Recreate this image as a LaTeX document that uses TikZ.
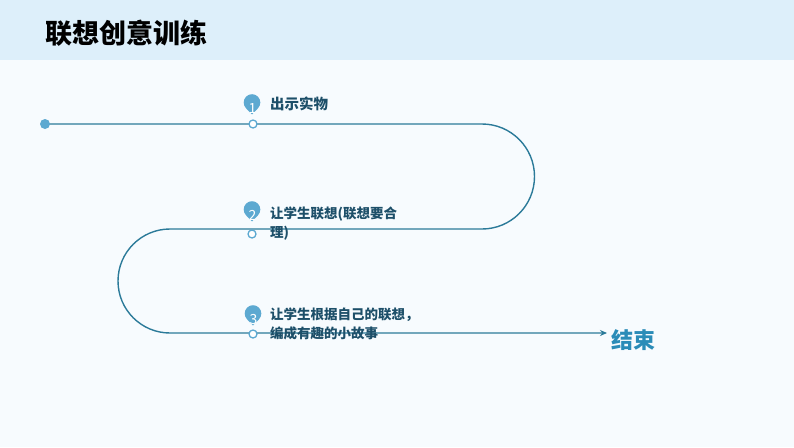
\documentclass[tikz,border=0pt]{standalone}
\usepackage{fontspec}
\newfontfamily\cjk{Noto Sans CJK SC}
\usetikzlibrary{arrows.meta,calc}
\definecolor{band}{HTML}{DDEFFA}
\definecolor{paper}{HTML}{F7FBFE}
\definecolor{road}{HTML}{2B7A99}
\definecolor{dotc}{HTML}{5DA9D1}
\definecolor{txt}{HTML}{1D4F69}
\definecolor{endc}{HTML}{2B8CB8}
\newcommand{\pin}[3]{% x, y of pin centre, number
	\begin{scope}
	\fill[dotc] (#1,#2+12) -- ($(#1,#2)+(45:8.3)$) arc (45:-225:8.3) -- cycle;
	\clip (#1,#2+12) -- ($(#1,#2)+(45:8.3)$) arc (45:-225:8.3) -- cycle;
	\node[font=\cjk\fontsize{14}{14}\selectfont, text=white, inner sep=0pt] at (#1+0.5,#2+6) {#3};
	\end{scope}}
\begin{document}
\begin{tikzpicture}[x=1pt, y=-1pt, line cap=round, line join=round, >={Stealth[length=7pt,width=6pt]}]
	\tikzset{road style/.style={draw=road, line width=1.4pt},
		hole/.style={circle, draw=dotc, fill=white, line width=1.3pt, minimum size=8pt, inner sep=0pt},
		step text/.style={font=\cjk\bfseries\fontsize{13.5}{19}\selectfont, text=txt, align=left, inner sep=0pt, anchor=base west}}
	\useasboundingbox (0,0) rectangle (794,447);
	\fill[paper] (0,0) rectangle (794,447);
	\fill[band] (0,0) rectangle (794,60);
	\node[font=\cjk\bfseries\fontsize{27}{27}\selectfont, anchor=west, inner sep=0pt] (title) at (45,33) {联想创意训练};
	% the winding road
	\coordinate (s) at (45,124);
	\coordinate (r1) at (482,124);
	\coordinate (l1) at (170,229);
	\coordinate (tip) at (607,333);
	\draw[road style, ->] (s) -- (r1) arc (-90:90:52.5) -- (l1) arc (-90:-270:52) -- (tip);
	\fill[dotc] (s) circle (5pt);
	\node[font=\cjk\bfseries\fontsize{22}{22}\selectfont, text=endc, anchor=west, inner sep=0pt] (end) at (611,340) {结束};
	% steps
	\node[hole] (h1) at (253,124) {};
	\node[hole] (h2) at (252,234) {};
	\node[hole] (h3) at (253,334) {};
	\pin{252}{102.5}{1}
	\pin{252}{209.5}{2}
	\pin{253}{313.5}{3}
	\node[step text, font=\cjk\bfseries\fontsize{14.5}{19}\selectfont] (t1) at (270,109) {出示实物};
	\node[step text] (t2) at (270,237) {让学生联想(联想要合\\理)};
	\node[step text] (t3) at (270,338.5) {让学生根据自己的联想，\\编成有趣的小故事};
\end{tikzpicture}
\end{document}
